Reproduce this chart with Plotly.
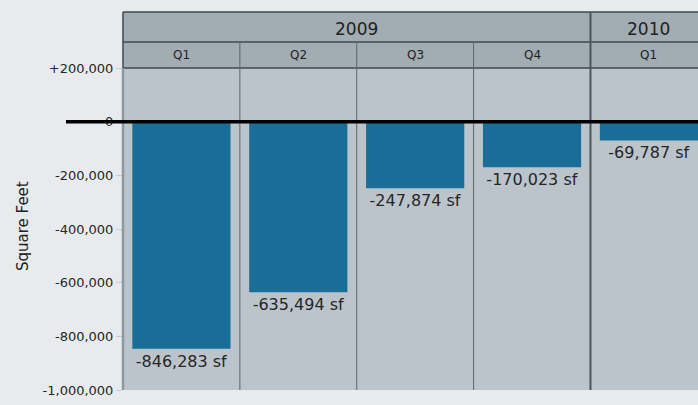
import plotly.graph_objects as go

quarters = ["Q1", "Q2", "Q3", "Q4", "Q1"]
years = ["2009", "2009", "2009", "2009", "2010"]
values = [-846283, -635494, -247874, -170023, -69787]
tick_vals = [200000, 0, -200000, -400000, -600000, -800000, -1000000]
tick_text = ["+200,000", "0", "-200,000", "-400,000", "-600,000", "-800,000", "-1,000,000"]

FONT = "DejaVu Sans, Verdana, sans-serif"
W, H = 698, 405
L, T, B = 123, 68, 15
plot_h = H - T - B
plot_w = W - L

def py(p):
    return (H - B - p) / plot_h

def px(p):
    return (p - L) / plot_w

xs = list(range(len(values)))
labels = [f"{v:,} sf" for v in values]

fig = go.Figure()
fig.add_trace(go.Bar(
    x=xs, y=values, width=0.84,
    marker=dict(color="#186e96", line=dict(width=0)),
    text=labels, textposition="outside",
    textfont=dict(size=16, color="#262626", family=FONT),
    cliponaxis=False, hoverinfo="skip",
))

shapes = []
hdr = "#a1acb3"
dark = "#3f484e"
shapes.append(dict(type="rect", xref="paper", yref="paper", x0=0, x1=1.05, y0=1, y1=py(12),
                   fillcolor=hdr, line=dict(width=0), layer="below"))
for yy in [12, 42, 68]:
    shapes.append(dict(type="line", xref="paper", yref="paper", x0=0, x1=1.05, y0=py(yy), y1=py(yy),
                       line=dict(color=dark, width=1.5)))
shapes.append(dict(type="line", xref="paper", yref="paper", x0=0, x1=0, y0=1, y1=py(12),
                   line=dict(color=dark, width=1.5)))
shapes.append(dict(type="line", xref="paper", yref="paper", x0=0, x1=0, y0=0, y1=1,
                   line=dict(color="#8f989e", width=2.5)))
for i in range(len(values) - 1):
    x = i + 0.5
    yearbreak = years[i] != years[i + 1]
    y_top = py(12) if yearbreak else py(42)
    shapes.append(dict(type="line", xref="x", yref="paper", x0=x, x1=x, y0=0, y1=y_top,
                       line=dict(color="#4a555c" if yearbreak else "#5a656c", width=2 if yearbreak else 1)))
shapes.append(dict(type="line", xref="paper", yref="y", x0=px(66), x1=1.01, y0=0, y1=0,
                   line=dict(color="#000000", width=3.5)))

annotations = []
groups = {}
for i, yv in enumerate(years):
    groups.setdefault(yv, []).append(i)
for yv, idx in groups.items():
    annotations.append(dict(x=(idx[0] + idx[-1]) / 2, y=py(29), xref="x", yref="paper",
                            text=yv, showarrow=False, xanchor="center", yanchor="middle",
                            font=dict(size=17, color="#222", family=FONT)))
for i, q in enumerate(quarters):
    annotations.append(dict(x=i, y=py(55.5), xref="x", yref="paper", text=q, showarrow=False,
                            xanchor="center", yanchor="middle",
                            font=dict(size=12, color="#222", family=FONT)))
annotations.append(dict(x=px(23), y=py(226), xref="paper", yref="paper", text="Square Feet",
                        textangle=-90, showarrow=False, xanchor="center", yanchor="middle",
                        font=dict(size=15, color="#222", family=FONT)))

fig.update_layout(
    width=W, height=H,
    margin=dict(l=L, r=0, t=T, b=B, pad=0),
    paper_bgcolor="#e7ebee", plot_bgcolor="#bcc4cb",
    showlegend=False,
    shapes=shapes, annotations=annotations,
    xaxis=dict(range=[-0.5, 4.42], showticklabels=False, showgrid=False, zeroline=False,
               showline=False, ticks=""),
    yaxis=dict(range=[-1000000, 200000], tickvals=tick_vals, ticktext=tick_text,
               showgrid=False, zeroline=False, showline=False,
               ticks="outside", ticklen=6, tickcolor="#c8cdd1", tickwidth=1,
               tickfont=dict(size=13, color="#262626", family=FONT)),
    font=dict(family=FONT),
)

fig.write_html("out.html")
